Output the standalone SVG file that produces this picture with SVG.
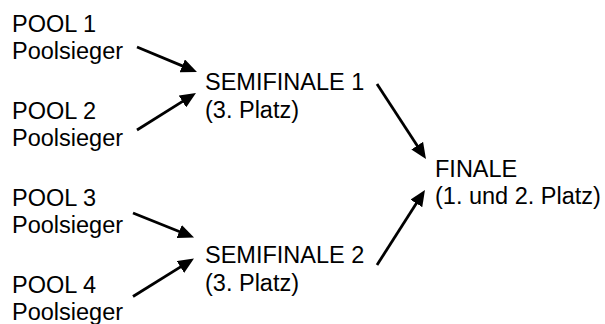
<svg xmlns="http://www.w3.org/2000/svg" width="605" height="324" viewBox="0 0 605 324">
<style>
text{font-family:"Liberation Sans",Arial,sans-serif;font-size:23.5px;fill:#000}
.c line{stroke:#000;stroke-width:2.8;marker-end:url(#ah)}
</style>
<defs>
<marker id="ah" markerUnits="userSpaceOnUse" markerWidth="16" markerHeight="14" refX="4" refY="7" orient="auto">
<path d="M0,0 L16,7 L0,14 z" fill="#000"/>
</marker>
</defs>
<rect width="605" height="324" fill="#fff"/>
<g id="pool1"><text x="12" y="31.5">POOL 1</text><text x="12" y="59">Poolsieger</text></g>
<g id="pool2"><text x="12" y="118.5">POOL 2</text><text x="12" y="146">Poolsieger</text></g>
<g id="pool3"><text x="12" y="205.5">POOL 3</text><text x="12" y="233">Poolsieger</text></g>
<g id="pool4"><text x="12" y="292.5">POOL 4</text><text x="12" y="320">Poolsieger</text></g>
<g id="semi1"><text x="205" y="90">SEMIFINALE 1</text><text x="205" y="117.5">(3. Platz)</text></g>
<g id="semi2"><text x="205" y="263">SEMIFINALE 2</text><text x="205" y="290.5">(3. Platz)</text></g>
<g id="finale"><text x="435" y="177">FINALE</text><text x="435" y="204">(1. und 2. Platz)</text></g>
<g class="c" id="connectors">
<line x1="137" y1="47" x2="185.9" y2="67.4"/>
<line x1="137" y1="130" x2="185.8" y2="99.4"/>
<line x1="133" y1="213" x2="182.9" y2="233"/>
<line x1="133" y1="296.5" x2="183.8" y2="264.9"/>
<line x1="377" y1="84" x2="419.4" y2="149"/>
<line x1="377" y1="265" x2="418.5" y2="200.1"/>
</g>
</svg>
